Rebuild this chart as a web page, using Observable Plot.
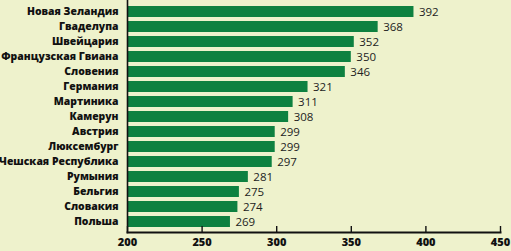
<!DOCTYPE html>
<html><head><meta charset="utf-8">
<script src="https://cdn.jsdelivr.net/npm/d3@7"></script>
<script src="https://cdn.jsdelivr.net/npm/@observablehq/plot@0.6"></script>
<style>html,body{margin:0;padding:0;background:#eef2cc;overflow:hidden;}</style>
</head><body><div id="chart"></div>
<script>
const countries = ["Новая Зеландия","Гваделупа","Швейцария","Французская Гвиана","Словения","Германия","Мартиника","Камерун","Австрия","Люксембург","Чешская Республика","Румыния","Бельгия","Словакия","Польша"];
const values = [392,368,352,350,346,321,311,308,299,299,297,281,275,274,269];
const xTicks = [200,250,300,350,400,450];
const baseline = 200;
const data = countries.map((c, i) => ({country: c, value: values[i]}));
const W = 511, H = 251, mT = 0, mB = 19;
const frameH = H - mT - mB;
const chart = Plot.plot({
  width: W, height: H, marginLeft: 127, marginRight: 11, marginTop: mT, marginBottom: mB,
  style: {background: "#eef2cc", fontFamily: "'Open Sans', sans-serif", fontSize: "11px", color: "#1a1a1a"},
  x: {domain: [200, 450], label: null},
  y: {domain: countries, paddingInner: 0.27, paddingOuter: 0.1, label: null},
  marks: [
    Plot.barX(data, {y: "country", x1: baseline, x2: "value", fill: "#0e8140"}),
    Plot.text(data, {y: "country", x: "value", text: d => String(d.value), textAnchor: "start", dx: 5, fontSize: 11.5, fill: "#222"}),
    Plot.axisY({tickSize: 0, tickPadding: 9, fontWeight: 800, fontSize: 10.4, fill: "#111"}),
    Plot.axisX({ticks: xTicks, tickSize: 0, tickPadding: 6, fontWeight: 800, fontSize: 11, fill: "#111"}),
    Plot.tickX(xTicks, {x: d => d, insetTop: frameH - 6, stroke: "#111", strokeWidth: 1.4}),
    Plot.frame({anchor: "left", stroke: "#111", strokeWidth: 1.6}),
    Plot.frame({anchor: "bottom", stroke: "#111", strokeWidth: 2})
  ]
});
document.getElementById("chart").append(chart);
</script>
</body></html>
